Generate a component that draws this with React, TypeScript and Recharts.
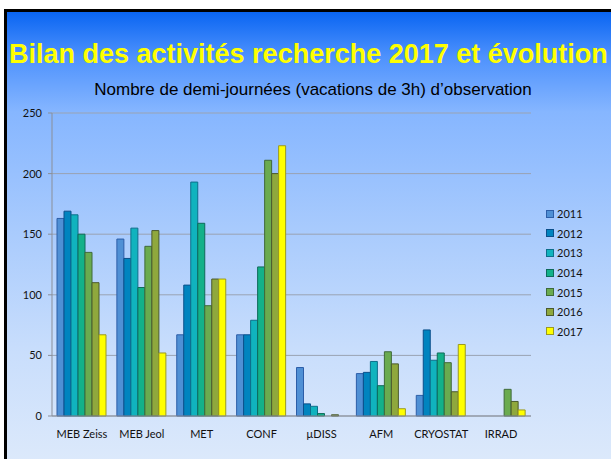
import React from 'react';
import { BarChart, Bar, XAxis, YAxis, CartesianGrid } from 'recharts';

// Nombre de demi-journées par équipement et par année
const categories = ['MEB Zeiss', 'MEB Jeol', 'MET', 'CONF', 'µDISS', 'AFM', 'CRYOSTAT', 'IRRAD'];
const years = ['2011', '2012', '2013', '2014', '2015', '2016', '2017'];

const v2011 = [163, 146, 67, 67, 40, 35, 17, 0];
const v2012 = [169, 130, 108, 67, 10, 36, 71, 0];
const v2013 = [166, 155, 193, 79, 8, 45, 46, 0];
const v2014 = [150, 106, 159, 123, 2, 25, 52, 0];
const v2015 = [135, 140, 91, 211, 0, 53, 44, 22];
const v2016 = [110, 153, 113, 200, 1, 43, 20, 12];
const v2017 = [67, 52, 113, 223, 0, 6, 59, 5];
const yTicks = [0, 50, 100, 150, 200, 250];

const series = [v2011, v2012, v2013, v2014, v2015, v2016, v2017];
const fills = ['#4f90d5', '#0084bf', '#10b3be', '#13b189', '#6aab4f', '#8fa83d', '#ffff00'];
const strokes = ['#2d5ea8', '#0b4f8a', '#0d6f8a', '#0e6a5a', '#3f6a3a', '#4b5a2e', '#9a9a20'];

const data = categories.map((name, i) => {
  const row: Record<string, string | number> = { name };
  years.forEach((y, k) => {
    row[y] = series[k][i];
  });
  return row;
});

const tickFont = { fontFamily: 'Lato, "Open Sans", sans-serif', fontSize: 11, fill: '#111' };

export default function App() {
  return (
    <div
      style={{
        position: 'absolute',
        left: 0,
        top: 0,
        width: 611,
        height: 459,
        overflow: 'hidden',
        background: '#fff',
      }}
    >
      {/* fond dégradé bleu avec bord noir */}
      <div
        style={{
          position: 'absolute',
          left: 4,
          top: 9,
          width: 620,
          height: 470,
          borderLeft: '3px solid #000',
          borderTop: '3px solid #000',
          background:
            'linear-gradient(180deg, #0a65f2 0px, #4e92fd 45px, #86b6ff 100px, #a9cbfd 220px, #c9defc 340px, #dce9fb 450px)',
        }}
      />
      <div
        style={{
          position: 'absolute',
          left: 9,
          top: 40,
          whiteSpace: 'nowrap',
          fontFamily: '"Liberation Sans", Arial, sans-serif',
          fontWeight: 'bold',
          fontSize: 27,
          lineHeight: '28px',
          color: '#ffff00',
        }}
      >
        Bilan des activités recherche 2017 et évolution
      </div>
      <div
        style={{
          position: 'absolute',
          left: 0,
          width: 626,
          top: 80,
          textAlign: 'center',
          whiteSpace: 'nowrap',
          fontFamily: '"Liberation Sans", Arial, sans-serif',
          fontSize: 17,
          lineHeight: '19px',
          color: '#000',
        }}
      >
        Nombre de demi-journées (vacations de 3h) d’observation
      </div>

      <div style={{ position: 'absolute', left: 0, top: 0 }}>
        <BarChart
          width={611}
          height={459}
          data={data}
          margin={{ top: 113, right: 80, bottom: 13, left: 12 }}
          barCategoryGap={5}
          barGap={0}
        >
          <CartesianGrid vertical={false} stroke="#9aa3b2" strokeWidth={1} />
          <XAxis
            dataKey="name"
            height={30}
            tick={tickFont}
            tickLine={false}
            tickMargin={8}
            axisLine={{ stroke: '#8a8f99' }}
            interval={0}
          />
          <YAxis
            width={40}
            domain={[0, 250]}
            ticks={yTicks}
            tick={tickFont}
            tickSize={4}
            tickMargin={6}
            tickLine={{ stroke: '#8a8f99' }}
            axisLine={{ stroke: '#8a8f99' }}
          />
          {years.map((y, k) => (
            <Bar
              key={y}
              dataKey={y}
              fill={fills[k]}
              stroke={strokes[k]}
              strokeWidth={1}
              isAnimationActive={false}
            />
          ))}
        </BarChart>
      </div>

      {/* légende */}
      <div style={{ position: 'absolute', left: 546, top: 204 }}>
        {years.map((y, k) => (
          <div
            key={y}
            style={{ display: 'flex', alignItems: 'center', height: 19.6 }}
          >
            <span
              style={{
                display: 'inline-block',
                width: 6,
                height: 6,
                background: fills[k],
                border: `1px solid ${strokes[k]}`,
                marginRight: 3,
              }}
            />
            <span style={{ fontFamily: tickFont.fontFamily, fontSize: 11, color: '#111' }}>{y}</span>
          </div>
        ))}
      </div>
    </div>
  );
}
